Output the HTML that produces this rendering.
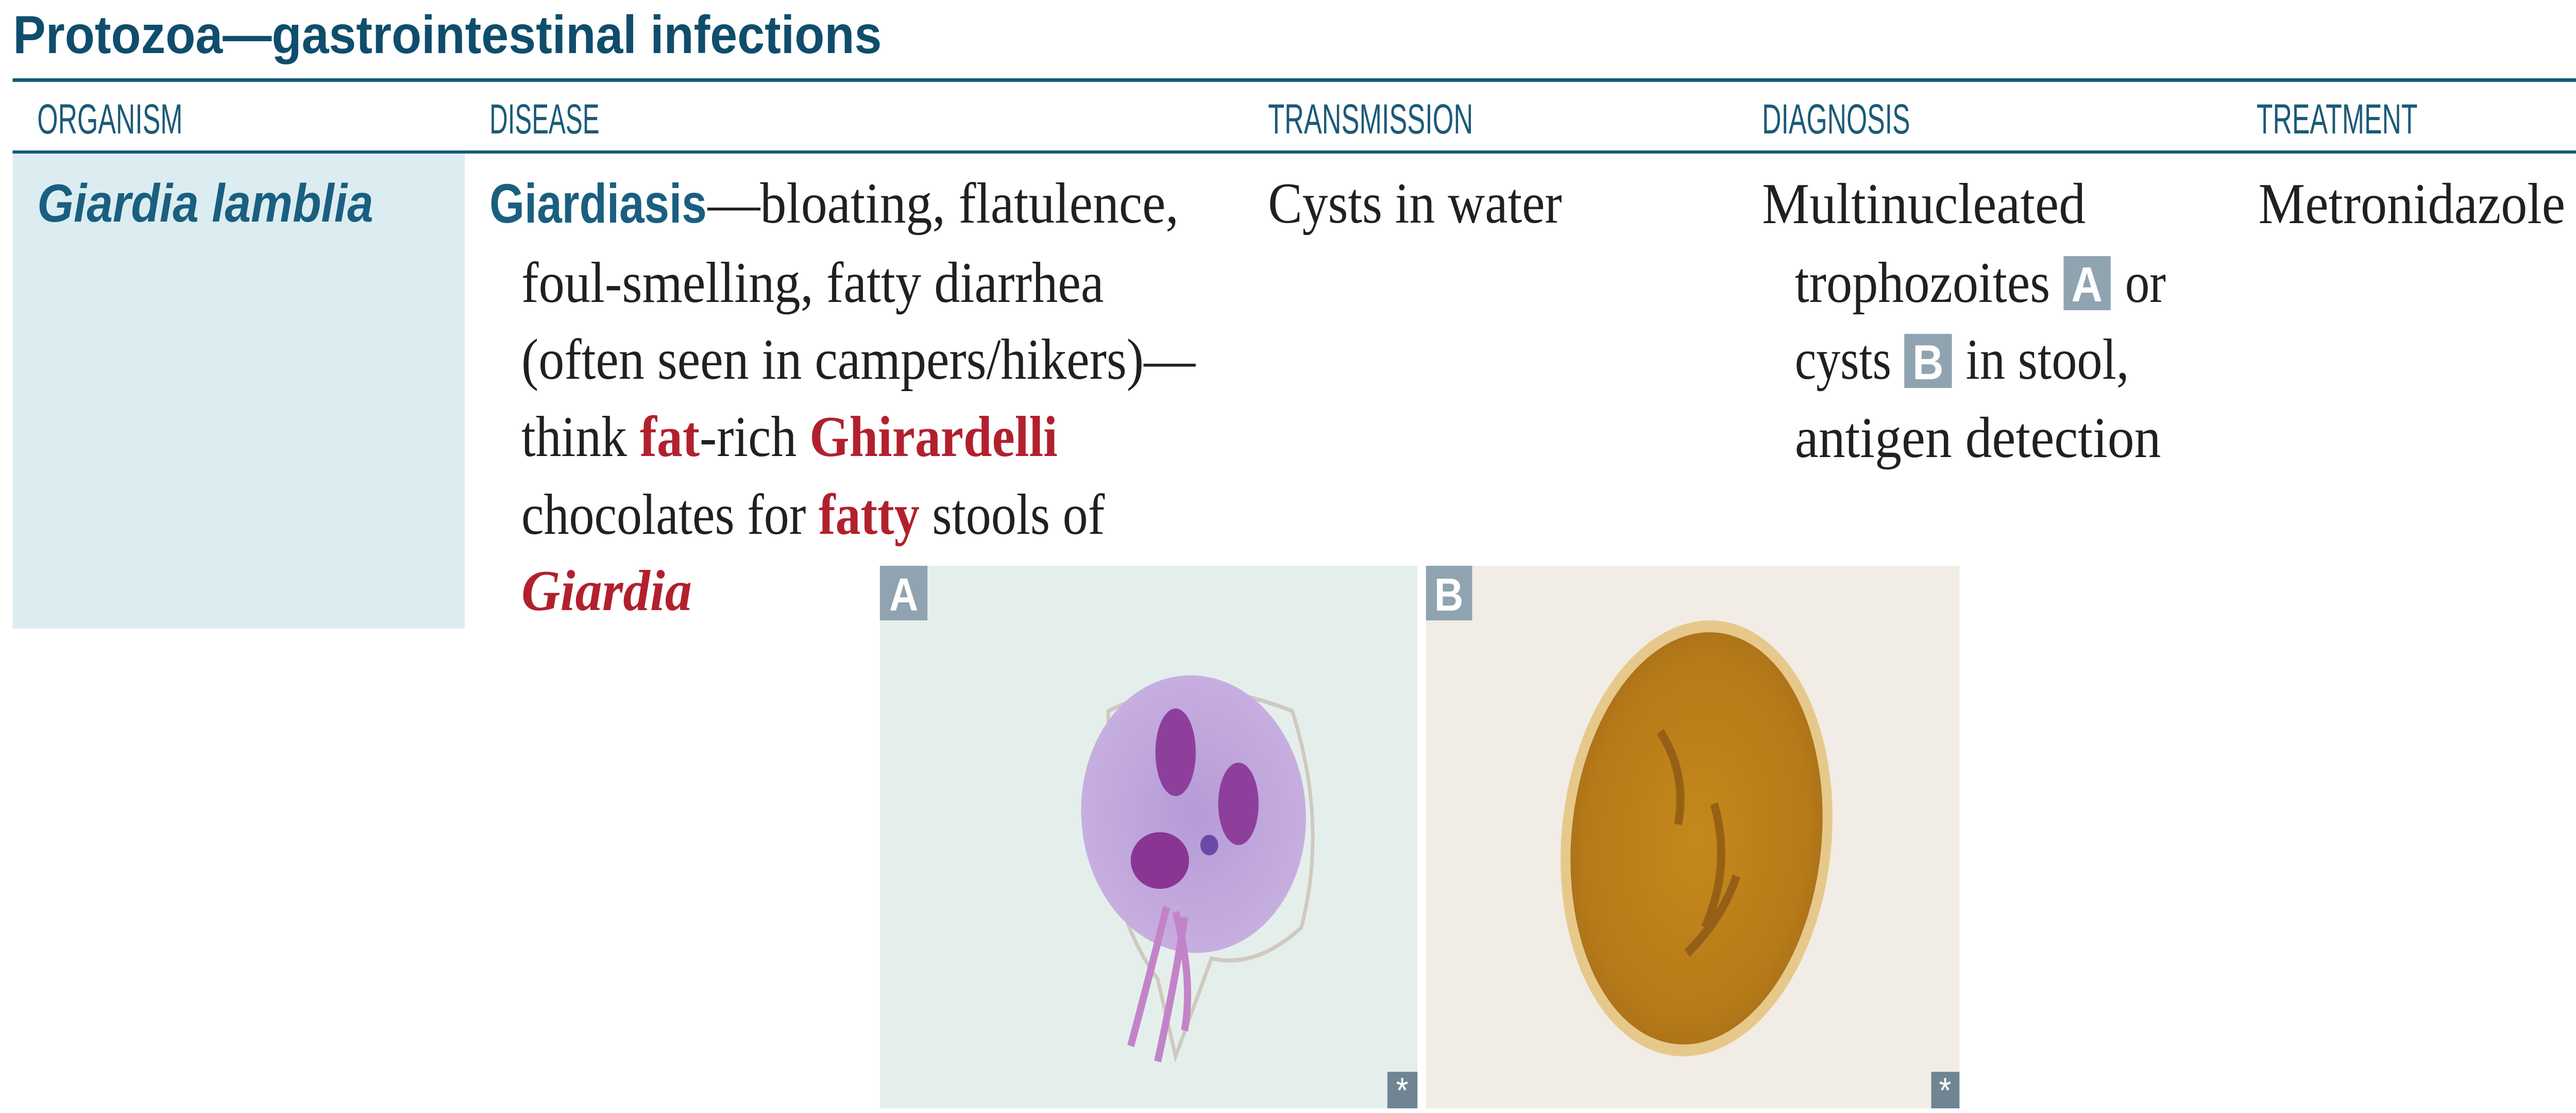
<!DOCTYPE html>
<html><head><meta charset="utf-8"><style>
html,body{margin:0;padding:0;background:#fff;overflow:hidden;width:100vw;height:100vh;}
svg{display:block;width:100vw;height:100vh;}
.serif{font-family:"Liberation Serif",serif;fill:#231f20;font-size:112px;}
.sans{font-family:"Liberation Sans",sans-serif;}
.hdr{font-family:"Liberation Sans",sans-serif;font-size:82px;fill:#1b5a78;}
.red{fill:#b2202e;}
</style></head><body>
<svg viewBox="0 0 5741 2160" preserveAspectRatio="none" xmlns="http://www.w3.org/2000/svg">
<defs>
<radialGradient id="gA" cx="50%" cy="50%" r="50%"><stop offset="0" stop-color="#b59bd6"/><stop offset="1" stop-color="#c7aee0"/></radialGradient>
<radialGradient id="gB" cx="50%" cy="50%" r="55%"><stop offset="0" stop-color="#c4891c"/><stop offset="0.8" stop-color="#b67a18"/><stop offset="1" stop-color="#a86f1a"/></radialGradient>
</defs>
<text x="29" y="103" class="sans" font-weight="bold" font-size="104" fill="#0f4d6c" textLength="1936" lengthAdjust="spacingAndGlyphs">Protozoa—gastrointestinal infections</text>
<rect x="28" y="152" width="5713" height="7" fill="#155a7a"/>
<text x="83" y="259" class="hdr" textLength="324" lengthAdjust="spacingAndGlyphs">ORGANISM</text>
<text x="1091" y="259" class="hdr" textLength="245" lengthAdjust="spacingAndGlyphs">DISEASE</text>
<text x="2826" y="259" class="hdr" textLength="457" lengthAdjust="spacingAndGlyphs">TRANSMISSION</text>
<text x="3927" y="259" class="hdr" textLength="330" lengthAdjust="spacingAndGlyphs">DIAGNOSIS</text>
<text x="5029" y="259" class="hdr" textLength="359" lengthAdjust="spacingAndGlyphs">TREATMENT</text>
<rect x="28" y="292" width="5713" height="6" fill="#155a7a"/>
<rect x="28" y="298" width="1008" height="922" fill="#dcedf1"/>
<text x="83" y="430" class="sans" font-weight="bold" font-style="italic" font-size="104" fill="#1a5f80" textLength="749" lengthAdjust="spacingAndGlyphs">Giardia lamblia</text>

<g>
<text x="1091" y="432" class="sans" font-weight="bold" font-size="108" fill="#1a5f80" textLength="484" lengthAdjust="spacingAndGlyphs">Giardiasis</text>
<text x="1577" y="432" class="serif" textLength="1050" lengthAdjust="spacingAndGlyphs">—bloating, flatulence,</text>
<text x="1162" y="586" class="serif" textLength="1298" lengthAdjust="spacingAndGlyphs">foul-smelling, fatty diarrhea</text>
<text x="1162" y="735" class="serif" textLength="1502" lengthAdjust="spacingAndGlyphs">(often seen in campers/hikers)—</text>
<text x="1162" y="885" class="serif" textLength="1195" lengthAdjust="spacingAndGlyphs">think <tspan class="red" font-weight="bold">fat</tspan>-rich <tspan class="red" font-weight="bold">Ghirardelli</tspan></text>
<text x="1162" y="1036" class="serif" textLength="1300" lengthAdjust="spacingAndGlyphs">chocolates for <tspan class="red" font-weight="bold">fatty</tspan> stools of</text>
<text x="1162" y="1184" class="serif red" font-weight="bold" font-style="italic" textLength="380" lengthAdjust="spacingAndGlyphs">Giardia</text>
</g>
<text x="2826" y="432" class="serif" textLength="655" lengthAdjust="spacingAndGlyphs">Cysts in water</text>
<g>
<text x="3927" y="433" class="serif" textLength="721" lengthAdjust="spacingAndGlyphs">Multinucleated</text>
<text x="4000" y="586" class="serif" textLength="569" lengthAdjust="spacingAndGlyphs">trophozoites</text>
<rect x="4599" y="497" width="105" height="105" fill="#90a3b0"/>
<text x="4651" y="585" class="sans" font-weight="bold" font-size="96" fill="#fff" text-anchor="middle">A</text>
<text x="4736" y="586" class="serif" textLength="91" lengthAdjust="spacingAndGlyphs">or</text>
<text x="4000" y="735" class="serif" textLength="215" lengthAdjust="spacingAndGlyphs">cysts</text>
<rect x="4244" y="648" width="106" height="105" fill="#90a3b0"/>
<text x="4297" y="736" class="sans" font-weight="bold" font-size="96" fill="#fff" text-anchor="middle">B</text>
<text x="4381" y="735" class="serif" textLength="364" lengthAdjust="spacingAndGlyphs">in stool,</text>
<text x="4000" y="887" class="serif" textLength="816" lengthAdjust="spacingAndGlyphs">antigen detection</text>
</g>
<text x="5033" y="433" class="serif" textLength="684" lengthAdjust="spacingAndGlyphs">Metronidazole</text>

<g>
<rect x="1961" y="1098" width="1198" height="1053" fill="#e4efec"/>
<path d="M2470 1380 Q2650 1300 2880 1380 Q2960 1600 2900 1800 Q2800 1880 2700 1860 L2620 2050 L2580 1900 Q2480 1780 2470 1600 Z" fill="none" stroke="#cfc9c0" stroke-width="8"/>
<ellipse cx="2660" cy="1580" rx="250" ry="270" fill="url(#gA)" transform="rotate(-10 2660 1580)"/>
<path d="M2600 1760 Q2560 1900 2520 2030 M2640 1780 Q2620 1900 2580 2060 M2620 1770 Q2660 1900 2640 2000" stroke="#c383c9" stroke-width="16" fill="none"/>
<ellipse cx="2620" cy="1460" rx="45" ry="85" fill="#8e3f9c"/>
<ellipse cx="2760" cy="1560" rx="45" ry="80" fill="#8e3f9c"/>
<ellipse cx="2585" cy="1670" rx="65" ry="55" fill="#8a3593"/>
<circle cx="2695" cy="1640" r="20" fill="#6a4aa8"/>
<rect x="1961" y="1098" width="106" height="106" fill="#90a3b0"/>
<text x="2014" y="1185" class="sans" font-weight="bold" font-size="90" fill="#fff" text-anchor="middle">A</text>
<rect x="3092" y="2080" width="67" height="71" fill="#6f8594"/>
<text x="3125" y="2140" class="sans" font-size="70" fill="#fff" text-anchor="middle">*</text>
</g>
<g>
<rect x="3178" y="1098" width="1189" height="1053" fill="#f2ece6"/>
<ellipse cx="3781" cy="1627" rx="300" ry="425" fill="#e6c98a" transform="rotate(8 3781 1627)"/>
<ellipse cx="3781" cy="1627" rx="278" ry="402" fill="url(#gB)" transform="rotate(8 3781 1627)"/>
<path d="M3700 1420 Q3760 1500 3740 1600 M3820 1560 Q3860 1680 3800 1800 M3760 1850 Q3840 1780 3870 1700" stroke="#7a4a14" stroke-width="18" fill="none" opacity="0.6"/>
<rect x="3178" y="1098" width="103" height="106" fill="#90a3b0"/>
<text x="3229" y="1185" class="sans" font-weight="bold" font-size="90" fill="#fff" text-anchor="middle">B</text>
<rect x="4304" y="2080" width="63" height="71" fill="#6f8594"/>
<text x="4335" y="2140" class="sans" font-size="70" fill="#fff" text-anchor="middle">*</text>
</g>
</svg>
</body></html>
